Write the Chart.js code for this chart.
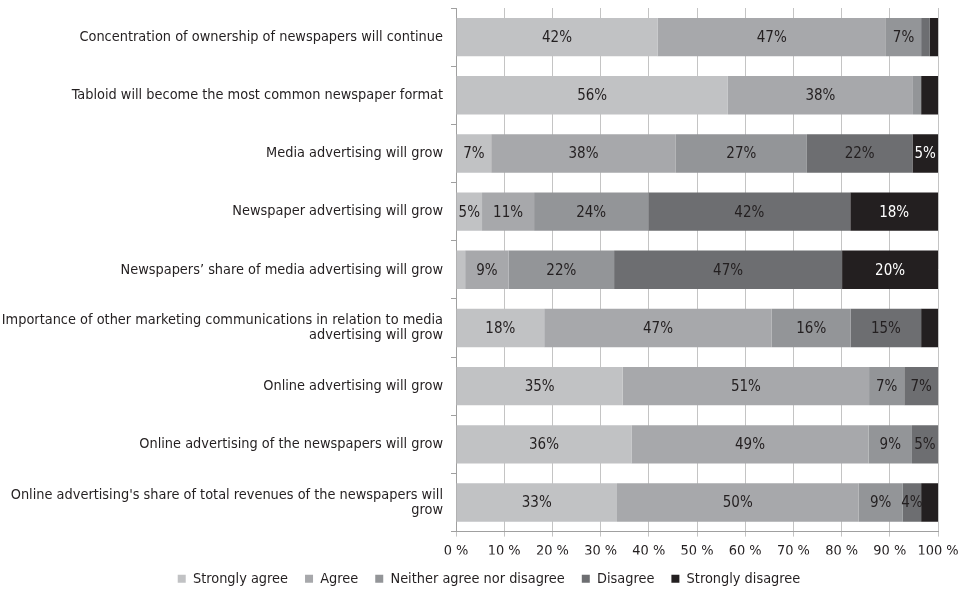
<!DOCTYPE html>
<html>
<head>
<meta charset="utf-8">
<script src="https://cdn.jsdelivr.net/npm/chart.js@4/dist/chart.umd.min.js"></script>
<style>
  html, body { margin: 0; padding: 0; background: #ffffff; }
  #wrap { width: 967px; height: 589px; position: relative; }
</style>
</head>
<body>
<div id="wrap"><canvas id="surveyChart"></canvas></div>
<script>
// Survey statements (top to bottom)
const statements = [
    'Concentration of ownership of newspapers will continue',
    'Tabloid will become the most common newspaper format',
    'Media advertising will grow',
    'Newspaper advertising will grow',
    'Newspapers\u2019 share of media advertising will grow',
    ['Importance of other marketing communications in relation to media', 'advertising will grow'],
    'Online advertising will grow',
    'Online advertising of the newspapers will grow',
    ['Online advertising\'s share of total revenues of the newspapers will', 'grow']
];

// Share of answers, % of respondents
const stronglyAgree    = [41.8, 56.4,  7.3,  5.4,  1.9, 18.3, 34.6, 36.4, 33.4];
const agree            = [47.4, 38.4, 38.3, 10.8,  9.0, 47.2, 51.1, 49.2, 50.1];
const neither          = [ 7.3,  1.7, 27.2, 23.7, 21.9, 16.4,  7.3,  9.0,  9.2];
const disagree         = [ 1.8,  0.0, 21.9, 41.9, 47.3, 14.6,  7.0,  5.4,  3.8];
const stronglyDisagree = [ 1.7,  3.5,  5.3, 18.2, 19.9,  3.5,  0.0,  0.0,  3.5];

const seriesNames = ['Strongly agree', 'Agree', 'Neither agree nor disagree', 'Disagree', 'Strongly disagree'];
const seriesColors = ['#c1c2c4', '#a7a8ab', '#939598', '#6d6e71', '#231f20'];

const FONT = '"Liberation Sans Narrow", "DejaVu Sans Condensed", "Noto Sans", sans-serif';
const TEXT = '#231f20';

// Percent labels inside the segments (skip the thin ones)
const segmentLabels = {
    id: 'segmentLabels',
    afterDatasetsDraw(chart) {
        const ctx = chart.ctx;
        ctx.save();
        ctx.font = '15px ' + FONT;
        ctx.textAlign = 'center';
        ctx.textBaseline = 'middle';
        chart.data.datasets.forEach((ds, i) => {
            const meta = chart.getDatasetMeta(i);
            meta.data.forEach((bar, j) => {
                const v = ds.data[j];
                if (v < 3.6) return;
                ctx.fillStyle = i === 4 ? '#ffffff' : TEXT;
                ctx.fillText(Math.round(v) + '%', (bar.base + bar.x) / 2, bar.y + 1);
            });
        });
        ctx.restore();
    }
};

// nudge the legend row a bit to the right
const legendShift = {
    id: 'legendShift',
    afterLayout(chart) {
        if (chart.legend) chart.legend.left += 40;
    }
};

const allSeries = [stronglyAgree, agree, neither, disagree, stronglyDisagree];

new Chart(document.getElementById('surveyChart'), {
    type: 'bar',
    data: {
        labels: statements,
        datasets: allSeries.map((vals, i) => ({
            label: seriesNames[i],
            data: vals,
            backgroundColor: seriesColors[i],
            borderWidth: 0,
            categoryPercentage: 0.66,
            barPercentage: 1.0
        }))
    },
    options: {
        indexAxis: 'y',
        responsive: true,
        maintainAspectRatio: false,
        animation: false,
        layout: { padding: { top: 8, right: 29, bottom: -7, left: 0 } },
        plugins: {
            tooltip: { enabled: false },
            legend: {
                position: 'bottom',
                labels: {
                    boxWidth: 8,
                    boxHeight: 8,
                    padding: 17,
                    color: TEXT,
                    font: { family: FONT, size: 14.4 }
                }
            }
        },
        scales: {
            x: {
                stacked: true,
                min: 0,
                max: 100,
                afterFit(scale) { scale.height = 23; },
                ticks: {
                    stepSize: 10,
                    color: TEXT,
                    padding: 6,
                    autoSkip: false,
                    maxRotation: 0,
                    minRotation: 0,
                    font: { family: FONT, size: 14.4 },
                    callback: v => v + ' %'
                },
                grid: { color: '#c4c4c4', lineWidth: 1, tickLength: 5 },
                border: { color: '#a0a0a0' }
            },
            y: {
                stacked: true,
                afterFit(scale) {
                    scale.width = 456;
                    scale.paddingTop = 0;
                    scale.paddingBottom = 0;
                },
                ticks: {
                    color: TEXT,
                    padding: 8,
                    font: { family: FONT, size: 14.4, lineHeight: 1.05 }
                },
                grid: { drawOnChartArea: false, offset: true, tickLength: 5, color: '#a0a0a0' },
                border: { color: '#a0a0a0' }
            }
        }
    },
    plugins: [segmentLabels, legendShift]
});
</script>
</body>
</html>
